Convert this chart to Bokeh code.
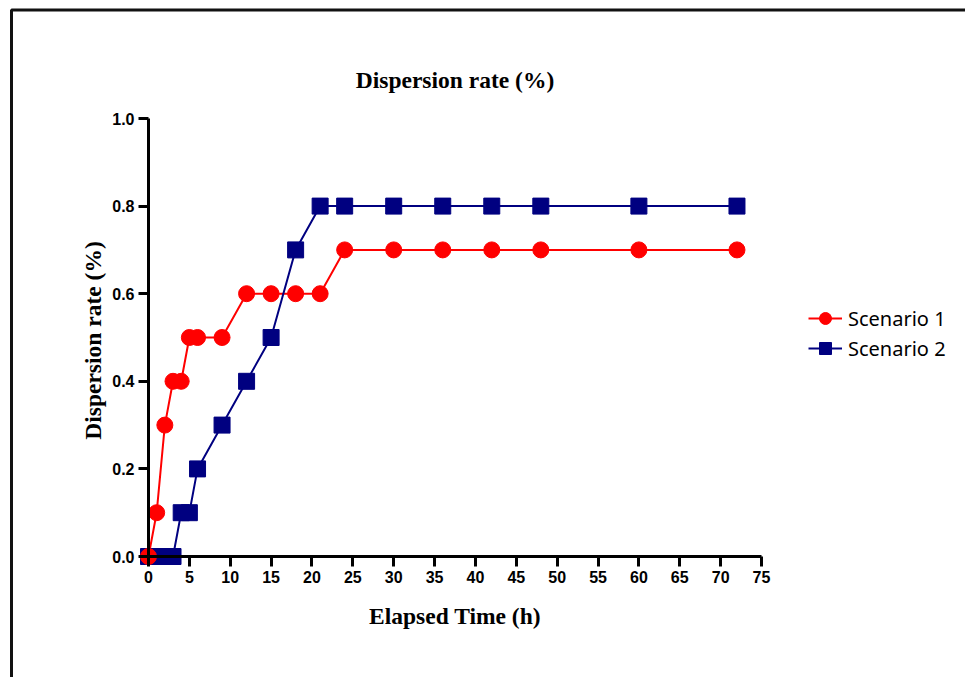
from bokeh.plotting import figure
from bokeh.models import (Range1d, SingleIntervalTicker, PrintfTickFormatter,
                          Legend, LegendItem, BoxAnnotation, Label)
from bokeh.embed import file_html
from bokeh.resources import INLINE
import math

# ---- data ----
time_h = [0, 1, 2, 3, 4, 5, 6, 9, 12, 15, 18, 21, 24, 30, 36, 42, 48, 60, 72]
scenario_1 = [0.0, 0.1, 0.3, 0.4, 0.4, 0.5, 0.5, 0.5, 0.6, 0.6, 0.6, 0.6,
              0.7, 0.7, 0.7, 0.7, 0.7, 0.7, 0.7]
scenario_2 = [0.0, 0.0, 0.0, 0.0, 0.1, 0.1, 0.2, 0.3, 0.4, 0.5, 0.7, 0.8,
              0.8, 0.8, 0.8, 0.8, 0.8, 0.8, 0.8]
series_names = ["Scenario 1", "Scenario 2"]
title_text = "Dispersion rate (%)"
x_label = "Elapsed Time (h)"
y_label = "Dispersion rate (%)"
x_bounds = (0, 75)
y_bounds = (0, 1)

RED = "#FF0000"
NAVY = "#000080"

W, H = 965, 677
# pixel placement of the axes inside the picture
X0_PX, X75_PX = 148.0, 761.0
Y0_PX, Y1_PX = 556.0, 118.0
sx = (X75_PX - X0_PX) / (x_bounds[1] - x_bounds[0])
sy = (Y0_PX - Y1_PX) / (y_bounds[1] - y_bounds[0])
x_range = Range1d(-X0_PX / sx, (W - X0_PX) / sx)
y_range = Range1d(-(H - Y0_PX) / sy, Y0_PX / sy)

p = figure(width=W, height=H, output_backend="svg", toolbar_location=None,
           x_range=x_range, y_range=y_range, min_border=0)
p.outline_line_color = None
p.grid.visible = False
p.background_fill_color = "white"
p.border_fill_color = "white"

# axes
for ax in (p.xaxis[0], p.yaxis[0]):
    ax.fixed_location = 0
    ax.axis_line_width = 3
    ax.axis_line_color = "black"
    ax.major_tick_line_width = 3
    ax.major_tick_line_color = "black"
    ax.major_tick_out = 10
    ax.major_tick_in = 0
    ax.minor_tick_line_color = None
    ax.major_label_text_font = "Liberation Sans"
    ax.major_label_text_font_style = "bold"
    ax.major_label_text_font_size = "16px"
    ax.major_label_text_color = "black"
    ax.major_label_standoff = 4

p.xaxis[0].bounds = x_bounds
p.xaxis[0].ticker = SingleIntervalTicker(interval=5)
p.yaxis[0].bounds = y_bounds
p.yaxis[0].ticker = SingleIntervalTicker(interval=0.2)
p.yaxis[0].formatter = PrintfTickFormatter(format="%.1f")

# titles (placed in data space relative to the axes)
x_mid = (x_bounds[0] + x_bounds[1]) / 2
common = dict(text_font="Liberation Serif", text_font_style="bold",
              text_font_size="23.5px", text_color="black",
              text_align="center", text_baseline="middle")
p.add_layout(Label(x=x_mid, y=(Y0_PX - 79) / sy, text=title_text, **common))
p.add_layout(Label(x=x_mid, y=(Y0_PX - 615) / sy, text=x_label, **common))
p.add_layout(Label(x=(92 - X0_PX) / sx, y=(Y0_PX - 340) / sy, text=y_label,
                   angle=math.pi / 2, **common))

# series
l1 = p.line(time_h, scenario_1, line_color=RED, line_width=2)
l2 = p.line(time_h, scenario_2, line_color=NAVY, line_width=2)
m2 = p.scatter(time_h, scenario_2, marker="square", size=16,
               fill_color=NAVY, line_color=NAVY)
m1 = p.scatter(time_h, scenario_1, marker="circle", size=16,
               fill_color=RED, line_color=RED)

legend = Legend(items=[LegendItem(label=series_names[0], renderers=[l1, m1]),
                       LegendItem(label=series_names[1], renderers=[l2, m2])],
                location=(808, H - 363))
legend.border_line_color = None
legend.background_fill_alpha = 0
legend.padding = 0
legend.margin = 0
legend.spacing = 0
legend.glyph_width = 34
legend.glyph_height = 30
legend.label_height = 30
legend.label_standoff = 6
legend.label_text_font = "Noto Sans"
legend.label_text_font_size = "20px"
legend.label_text_color = "black"
p.add_layout(legend, "center")

# page frame line along the top and left of the picture
frame_box = BoxAnnotation(left=(11 - X0_PX) / sx, right=x_range.end + 50,
                          top=(Y0_PX - 9.5) / sy, bottom=y_range.start - 5,
                          fill_alpha=0, line_color="#111111", line_alpha=1.0,
                          line_width=3)
p.add_layout(frame_box)

open("out.html", "w").write(file_html(p, INLINE))
